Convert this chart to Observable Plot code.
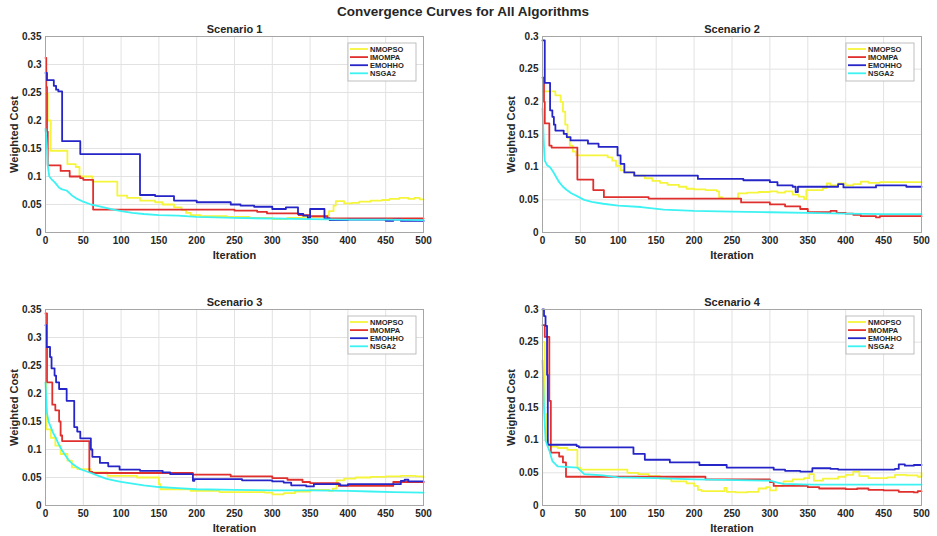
<!DOCTYPE html>
<html><head><meta charset="utf-8">
<script src="https://cdn.jsdelivr.net/npm/d3@7"></script>
<script src="https://cdn.jsdelivr.net/npm/@observablehq/plot@0.6"></script>
<style>
body{margin:0;background:#fff;width:937px;height:536px;overflow:hidden;position:relative;font-family:"Liberation Sans",Arial,sans-serif;}
#title{position:absolute;left:0;top:4px;width:926px;text-align:center;font-weight:bold;font-size:13.5px;color:#262626;}
.panel{position:absolute;}
</style></head><body>
<div id="title">Convergence Curves for All Algorithms</div>
<div id="p1" class="panel" style="left:0;top:20px"></div>
<div id="p2" class="panel" style="left:468px;top:20px"></div>
<div id="p3" class="panel" style="left:0;top:293px"></div>
<div id="p4" class="panel" style="left:468px;top:293px"></div>
<script>
const algorithms = ["NMOPSO", "IMOMPA", "EMOHHO", "NSGA2"];
const colors = ["#f5f53c", "#e0302e", "#2525c8", "#3cf2f2"];
const scenarioTitles = ["Scenario 1", "Scenario 2", "Scenario 3", "Scenario 4"];
const iterTicks = [0, 50, 100, 150, 200, 250, 300, 350, 400, 450, 500];
const yTicks035 = [0, 0.05, 0.1, 0.15, 0.2, 0.25, 0.3, 0.35];
const yTicks030 = [0, 0.05, 0.1, 0.15, 0.2, 0.25, 0.3];

// Scenario 1 : [iteration, weighted cost]
const s1NMOPSO = [[0,0.248],[3,0.2],[7,0.146],[29,0.122],[40,0.117],[45,0.1],[62,0.091],[95,0.066],[108,0.062],[125,0.057],[145,0.054],[155,0.05],[170,0.045],[180,0.04],[186,0.035],[192,0.031],[205,0.029],[240,0.028],[270,0.026],[300,0.024],[320,0.026],[340,0.028],[368,0.03],[375,0.038],[381,0.048],[384,0.056],[395,0.052],[405,0.053],[415,0.055],[430,0.057],[445,0.058],[455,0.06],[468,0.062],[480,0.06],[488,0.062],[495,0.059],[500,0.059]];
const s1IMOMPA = [[0,0.312],[1,0.26],[2,0.18],[3,0.12],[20,0.11],[32,0.1],[46,0.097],[50,0.094],[63,0.041],[250,0.039],[280,0.037],[293,0.034],[335,0.031],[350,0.029],[373,0.025],[500,0.025]];
const s1EMOHHO = [[0,0.285],[2,0.272],[11,0.262],[14,0.255],[17,0.252],[22,0.163],[46,0.14],[125,0.067],[145,0.065],[170,0.057],[200,0.054],[245,0.05],[258,0.048],[276,0.046],[300,0.042],[318,0.045],[334,0.033],[341,0.03],[347,0.026],[350,0.042],[369,0.025],[376,0.022],[400,0.023],[450,0.021],[460,0.023],[470,0.021],[500,0.02]];
const s1NSGA2 = [[0,0.185],[1,0.17],[2,0.15],[3,0.12],[5,0.1],[8,0.095],[12,0.09],[15,0.085],[18,0.08],[22,0.077],[28,0.075],[32,0.07],[36,0.065],[42,0.06],[50,0.055],[60,0.05],[70,0.047],[80,0.044],[90,0.041],[100,0.038],[115,0.035],[130,0.033],[150,0.031],[175,0.03],[200,0.028],[250,0.026],[300,0.025],[350,0.024],[400,0.023],[450,0.023],[500,0.022]];

// Scenario 2
const s2NMOPSO = [[0,0.216],[17,0.21],[24,0.2],[27,0.185],[30,0.165],[33,0.145],[36,0.133],[40,0.124],[44,0.118],[86,0.115],[92,0.11],[97,0.102],[103,0.095],[108,0.092],[122,0.087],[135,0.083],[145,0.079],[155,0.076],[165,0.073],[180,0.07],[190,0.067],[200,0.066],[215,0.065],[230,0.063],[233,0.054],[237,0.052],[258,0.06],[270,0.061],[285,0.062],[300,0.063],[310,0.061],[320,0.063],[330,0.058],[338,0.055],[345,0.051],[348,0.065],[370,0.068],[375,0.075],[380,0.072],[390,0.075],[400,0.072],[410,0.074],[420,0.078],[430,0.076],[445,0.077],[500,0.077]];
const s2IMOMPA = [[0,0.237],[2,0.2],[3,0.167],[9,0.133],[12,0.13],[46,0.081],[67,0.065],[81,0.054],[140,0.052],[262,0.046],[300,0.043],[320,0.04],[340,0.036],[350,0.031],[380,0.033],[388,0.03],[400,0.029],[410,0.027],[420,0.025],[440,0.023],[445,0.025],[500,0.025]];
const s2EMOHHO = [[0,0.294],[3,0.229],[10,0.187],[13,0.177],[15,0.165],[17,0.156],[28,0.151],[32,0.146],[37,0.141],[60,0.136],[74,0.131],[99,0.118],[103,0.105],[108,0.092],[121,0.087],[205,0.082],[265,0.08],[300,0.077],[310,0.072],[330,0.07],[334,0.062],[337,0.07],[390,0.074],[397,0.069],[440,0.072],[480,0.07],[500,0.07]];
const s2NSGA2 = [[0,0.19],[1,0.16],[2,0.13],[3,0.11],[6,0.103],[10,0.1],[14,0.093],[18,0.085],[22,0.077],[27,0.07],[32,0.065],[38,0.06],[45,0.056],[55,0.05],[65,0.047],[80,0.044],[100,0.041],[130,0.039],[160,0.035],[200,0.033],[250,0.032],[300,0.031],[350,0.03],[400,0.029],[450,0.028],[500,0.028]];

// Scenario 3
const s3NMOPSO = [[0,0.22],[1,0.136],[7,0.121],[13,0.107],[20,0.092],[29,0.08],[35,0.068],[42,0.065],[60,0.059],[82,0.053],[121,0.05],[150,0.038],[152,0.029],[192,0.026],[230,0.024],[290,0.023],[300,0.02],[315,0.022],[330,0.025],[350,0.028],[375,0.026],[380,0.03],[385,0.045],[395,0.048],[410,0.05],[430,0.051],[450,0.052],[470,0.053],[490,0.052],[500,0.05]];
const s3IMOMPA = [[0,0.343],[2,0.22],[9,0.18],[13,0.17],[18,0.15],[20,0.125],[22,0.115],[58,0.06],[62,0.058],[195,0.055],[245,0.052],[300,0.049],[320,0.046],[340,0.042],[350,0.04],[388,0.035],[460,0.042],[500,0.041]];
const s3EMOHHO = [[0,0.322],[1,0.283],[6,0.265],[8,0.245],[12,0.232],[14,0.22],[18,0.208],[28,0.187],[38,0.14],[42,0.132],[46,0.12],[60,0.1],[62,0.087],[72,0.076],[83,0.07],[98,0.064],[125,0.062],[155,0.059],[165,0.056],[195,0.044],[197,0.047],[260,0.045],[300,0.043],[315,0.041],[325,0.036],[345,0.034],[355,0.038],[390,0.036],[400,0.038],[465,0.038],[470,0.044],[475,0.046],[480,0.043],[500,0.043]];
const s3NSGA2 = [[0,0.22],[1,0.19],[2,0.165],[4,0.15],[7,0.14],[10,0.13],[14,0.12],[18,0.108],[22,0.098],[26,0.09],[30,0.082],[35,0.075],[40,0.07],[46,0.065],[52,0.062],[60,0.058],[70,0.053],[80,0.048],[90,0.045],[100,0.042],[115,0.039],[130,0.036],[150,0.033],[175,0.031],[200,0.029],[250,0.028],[300,0.027],[350,0.027],[400,0.026],[430,0.025],[460,0.024],[500,0.023]];

// Scenario 4
const s4NMOPSO = [[0,0.25],[3,0.14],[5,0.1],[8,0.09],[20,0.088],[33,0.085],[46,0.058],[50,0.055],[112,0.05],[126,0.048],[140,0.045],[155,0.041],[170,0.037],[190,0.034],[200,0.03],[205,0.024],[210,0.022],[240,0.027],[243,0.021],[255,0.02],[270,0.021],[285,0.026],[295,0.028],[300,0.023],[308,0.03],[318,0.037],[330,0.04],[345,0.042],[352,0.048],[358,0.038],[370,0.041],[390,0.044],[400,0.047],[410,0.052],[418,0.045],[430,0.042],[455,0.043],[465,0.047],[480,0.046],[495,0.044],[500,0.05]];
const s4IMOMPA = [[0,0.276],[3,0.258],[9,0.16],[11,0.081],[22,0.075],[27,0.066],[31,0.044],[215,0.04],[300,0.036],[305,0.03],[350,0.028],[365,0.026],[400,0.025],[415,0.026],[430,0.024],[450,0.023],[470,0.021],[490,0.02],[495,0.022],[500,0.022]];
const s4EMOHHO = [[0,0.3],[2,0.29],[4,0.275],[6,0.2],[7,0.093],[45,0.091],[48,0.089],[120,0.079],[135,0.07],[168,0.066],[207,0.062],[243,0.058],[305,0.055],[320,0.053],[340,0.052],[356,0.057],[380,0.056],[390,0.055],[465,0.056],[470,0.063],[478,0.061],[490,0.062],[500,0.062]];
const s4NSGA2 = [[0,0.222],[2,0.15],[4,0.1],[6,0.093],[9,0.084],[13,0.068],[18,0.062],[20,0.06],[46,0.058],[55,0.048],[80,0.046],[100,0.043],[150,0.042],[200,0.04],[300,0.038],[310,0.035],[318,0.033],[355,0.032],[500,0.032]];

const scenarioSeries = [
  [s1NMOPSO, s1IMOMPA, s1EMOHHO, s1NSGA2],
  [s2NMOPSO, s2IMOMPA, s2EMOHHO, s2NSGA2],
  [s3NMOPSO, s3IMOMPA, s3EMOHHO, s3NSGA2],
  [s4NMOPSO, s4IMOMPA, s4EMOHHO, s4NSGA2]
];
const scenarioYMax = [0.35, 0.3, 0.35, 0.3];
const scenarioYTicks = [yTicks035, yTicks030, yTicks035, yTicks030];

const layouts = [
  {id: "p1", width: 468, ml: 45, mr: 45},
  {id: "p2", width: 469, ml: 74, mr: 16},
  {id: "p3", width: 468, ml: 45, mr: 45},
  {id: "p4", width: 469, ml: 74, mr: 16}
];

const font = "'Liberation Sans', Arial, sans-serif";

scenarioSeries.forEach((series, k) => {
  const L = layouts[k];
  const yT = scenarioYTicks[k];
  const marginTop = 16, height = 242;
  const rows = [];
  algorithms.forEach((name, i) => series[i].forEach(([it, v]) => rows.push({algorithm: name, iteration: it, cost: v})));
  const chart = Plot.plot({
    width: L.width, height, marginTop, marginBottom: 30, marginLeft: L.ml, marginRight: L.mr,
    style: {fontFamily: font, fontSize: "10px", fontWeight: "bold", color: "#262626", background: "white", overflow: "visible"},
    x: {domain: [0, 500]},
    y: {domain: [0, scenarioYMax[k]]},
    color: {domain: algorithms, range: colors},
    marks: [
      Plot.gridX(iterTicks, {stroke: "#e2e2e2", strokeOpacity: 1}),
      Plot.gridY(yT, {stroke: "#e2e2e2", strokeOpacity: 1}),
      Plot.axisX({ticks: iterTicks, tickSize: 0, tickPadding: 4, tickFormat: d => String(d), label: null}),
      Plot.axisY({ticks: yT, tickSize: 0, tickPadding: 4, tickFormat: d => String(+d.toFixed(2)), label: null}),
      ...algorithms.map(name => Plot.line(rows.filter(d => d.algorithm === name), {
        x: "iteration", y: "cost", stroke: "algorithm", strokeWidth: 1.8,
        curve: name === "NSGA2" ? "linear" : "step-after"
      })),
      Plot.frame({stroke: "#a6a6a6"}),
      Plot.text([scenarioTitles[k]], {text: d => d, frameAnchor: "top", lineAnchor: "middle", textAnchor: "middle", dy: -7, fontSize: 11, fontWeight: "bold", fill: "#262626"}),
      Plot.text(["Iteration"], {text: d => d, frameAnchor: "bottom", lineAnchor: "middle", textAnchor: "middle", dy: 23, fontSize: 11, fontWeight: "bold", fill: "#262626"}),
      Plot.text(["Weighted Cost"], {text: d => d, frameAnchor: "left", lineAnchor: "middle", textAnchor: "middle", dx: -31, rotate: -90, fontSize: 11, fontWeight: "bold", fill: "#262626"})
    ]
  });
  // legend box in the upper right of the axes
  const svg = d3.select(chart);
  const bw = 68, bh = 38;
  const bx = L.width - L.mr - 7 - bw, by = marginTop + 7;
  const g = svg.append("g").attr("text-anchor", "start");
  g.append("rect").attr("x", bx).attr("y", by).attr("width", bw).attr("height", bh)
    .attr("fill", "white").attr("stroke", "#b0b0b0").attr("stroke-width", 0.8);
  algorithms.forEach((name, i) => {
    const yy = by + 6 + i * 8.1;
    g.append("line").attr("x1", bx + 2).attr("x2", bx + 20).attr("y1", yy).attr("y2", yy)
      .attr("stroke", colors[i]).attr("stroke-width", 1.8);
    g.append("text").attr("x", bx + 22).attr("y", yy).attr("dy", "0.35em")
      .attr("text-anchor", "start")
      .attr("font-size", 7.5).attr("font-weight", "bold").attr("fill", "#262626")
      .attr("font-family", font).text(name);
  });
  document.getElementById(L.id).appendChild(chart);
});
</script>
</body></html>
